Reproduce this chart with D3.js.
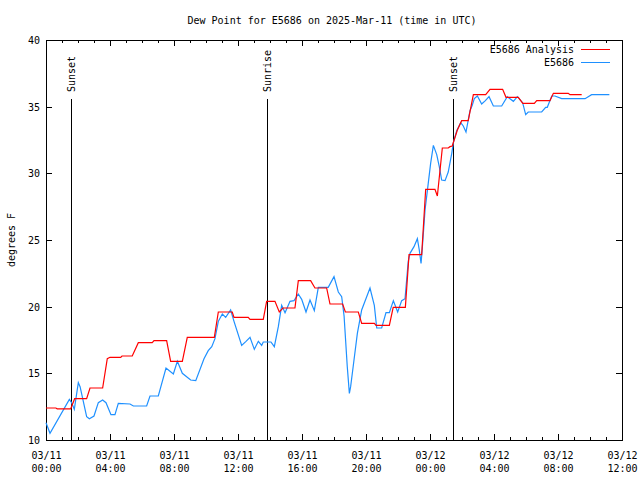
<!DOCTYPE html>
<html><head><meta charset="utf-8">
<script src="https://cdn.jsdelivr.net/npm/d3@7"></script>
<style>
body{margin:0;background:#fff}
svg{display:block}
text{font-family:"DejaVu Sans Mono",monospace;font-size:10px;fill:#000}
</style>
</head><body>
<svg id="chart" width="640" height="480"></svg>
<script>
// ---------------- data ----------------
const chartTitle = "Dew Point for E5686 on 2025-Mar-11 (time in UTC)";
const yAxisLabel = "degrees F";
const seriesNames = ["E5686 Analysis", "E5686"];
const seriesColors = ["#ff0000", "#1e90ff"];
const startUTC = Date.UTC(2025, 2, 11, 0, 0);   // 03/11 00:00 UTC
const spanHours = 36;
const yTicks = [10, 15, 20, 25, 30, 35, 40];

// hours after 03/11 00:00 UTC
const analysisHours = [0, 0.62, 0.7, 1.54, 1.79, 2.54, 2.75, 3.54, 3.83, 4.0, 4.67, 4.75, 5.39, 5.77, 6.64, 6.75, 7.54, 7.79, 8.52, 8.83, 10.52, 10.77, 11.64, 11.75, 12.64, 12.75, 13.58, 13.79, 14.31, 14.58, 14.81, 15.56, 15.77, 16.54, 16.81, 17.54, 17.75, 18.54, 18.71, 19.52, 19.73, 20.52, 20.63, 21.46, 21.7, 22.46, 22.69, 23.48, 23.73, 24.31, 24.46, 24.77, 25.14, 25.25, 25.39, 25.71, 25.98, 26.39, 26.71, 27.48, 27.75, 28.54, 28.75, 29.52, 29.8, 30.52, 30.67, 31.5, 31.71, 32.64, 32.75, 33.48];
const analysisValues = [12.4, 12.4, 12.33, 12.33, 13.1, 13.1, 13.9, 13.9, 16.1, 16.2, 16.2, 16.3, 16.3, 17.3, 17.3, 17.45, 17.45, 15.9, 15.9, 17.7, 17.7, 19.6, 19.6, 19.2, 19.2, 19.05, 19.05, 20.4, 20.4, 19.6, 19.9, 19.9, 21.95, 21.95, 21.4, 21.4, 20.2, 20.2, 19.6, 19.6, 18.75, 18.75, 18.6, 18.6, 19.95, 19.95, 23.9, 23.9, 28.8, 28.8, 28.3, 31.9, 31.9, 32.0, 32.05, 33.25, 33.95, 33.95, 35.9, 35.9, 36.3, 36.3, 35.7, 35.7, 35.25, 35.25, 35.45, 35.45, 36.0, 36.0, 35.9, 35.9];

const obsHours = [0, 0.25, 1.46, 1.6, 1.77, 2.02, 2.13, 2.54, 2.71, 3.0, 3.27, 3.54, 3.75, 4.06, 4.31, 4.52, 5.25, 5.46, 6.29, 6.5, 7.02, 7.5, 7.96, 8.21, 8.52, 9.04, 9.36, 9.875, 10.14, 10.36, 10.56, 10.77, 11.02, 11.23, 11.54, 11.75, 12.23, 12.5, 12.75, 13.02, 13.27, 13.48, 13.58, 14.06, 14.27, 14.52, 14.73, 14.94, 15.25, 15.5, 15.77, 15.98, 16.25, 16.5, 16.77, 17.02, 17.64, 18.0, 18.27, 18.48, 18.63, 18.83, 18.96, 19.04, 19.25, 19.46, 19.73, 20.25, 20.52, 20.67, 20.98, 21.25, 21.46, 21.71, 21.98, 22.23, 22.44, 22.64, 22.75, 23.0, 23.21, 23.33, 23.44, 23.52, 23.69, 23.89, 24.04, 24.21, 24.42, 24.58, 24.73, 24.94, 25.14, 25.36, 25.46, 25.67, 25.92, 26.08, 26.25, 26.5, 26.64, 26.77, 26.96, 27.23, 27.46, 27.69, 27.96, 28.48, 28.83, 29.21, 29.46, 29.79, 29.98, 30.14, 30.98, 31.23, 31.33, 31.61, 31.81, 32.23, 33.69, 34.1, 35.21];
const obsValues = [11.3, 10.5, 13.05, 12.8, 12.3, 14.3, 14.0, 11.75, 11.6, 11.8, 12.8, 13.0, 12.8, 11.9, 11.9, 12.75, 12.7, 12.55, 12.55, 13.3, 13.3, 15.4, 14.95, 15.9, 15.0, 14.5, 14.45, 16.1, 16.7, 17.0, 17.6, 18.9, 19.45, 19.2, 19.75, 18.9, 17.1, 17.4, 17.7, 16.8, 17.4, 17.1, 17.35, 17.35, 17.0, 18.5, 20.1, 19.55, 20.4, 20.45, 20.95, 20.55, 19.6, 20.5, 19.7, 21.45, 21.45, 22.25, 21.1, 20.75, 19.3, 15.5, 13.5, 14.0, 16.0, 18.0, 19.75, 21.4, 20.1, 18.4, 18.4, 19.55, 19.55, 20.45, 19.6, 20.45, 20.6, 23.4, 24.0, 24.5, 25.1, 24.25, 23.25, 24.4, 27.25, 29.25, 30.75, 32.1, 31.4, 30.5, 29.5, 29.45, 30.1, 31.5, 32.3, 33.2, 33.8, 33.55, 33.1, 34.7, 35.1, 35.6, 35.8, 35.2, 35.45, 35.75, 35.05, 35.05, 35.75, 35.4, 35.75, 35.3, 34.4, 34.6, 34.6, 34.95, 34.95, 35.8, 35.8, 35.6, 35.6, 35.9, 35.9];

const sunEventNames = ["Sunset", "Sunrise", "Sunset"];
const sunEventHours = [1.54, 13.79, 25.46];

// ---------------- layout ----------------
const m = {left: 46, right: 622, top: 40, bottom: 440};
const svg = d3.select("#chart");
const toDate = h => new Date(startUTC + h * 3600e3);

const x = d3.scaleUtc().domain([toDate(0), toDate(spanHours)]).range([m.left, m.right]);
const y = d3.scaleLinear().domain([10, 40]).range([m.bottom, m.top]);

// title
svg.append("text").attr("x", 332).attr("y", 20).attr("text-anchor", "middle")
  .attr("dominant-baseline", "central").text(chartTitle);

// y label
svg.append("text").attr("transform", `translate(11,${(m.top + m.bottom) / 2}) rotate(-90)`)
  .attr("text-anchor", "middle").attr("dominant-baseline", "central").text(yAxisLabel);

function styleAxis(g) {
  g.select(".domain").remove();
  g.attr("font-family", null).attr("font-size", null);
  g.selectAll("line").attr("stroke", "#000").attr("shape-rendering", "crispEdges");
}

const hourTicks = d3.utcHour.every(1).range(toDate(0), toDate(spanHours + 0.01));
const majorTicks = d3.utcHour.every(4).range(toDate(0), toDate(spanHours + 0.01));

// minor x ticks (bottom & top)
svg.append("g").attr("transform", `translate(0,${m.bottom})`)
  .call(d3.axisBottom(x).tickValues(hourTicks).tickSize(-3).tickFormat("")).call(styleAxis);
svg.append("g").attr("transform", `translate(0,${m.top})`)
  .call(d3.axisTop(x).tickValues(hourTicks).tickSize(-3).tickFormat("")).call(styleAxis);
// major x ticks
const fmtD = d3.utcFormat("%m/%d"), fmtT = d3.utcFormat("%H:%M");
const xb = svg.append("g").attr("transform", `translate(0,${m.bottom})`)
  .call(d3.axisBottom(x).tickValues(majorTicks).tickSize(-6).tickFormat("")).call(styleAxis);
xb.selectAll(".tick text").remove();
xb.selectAll(".tick").each(function(d) {
  const g = d3.select(this);
  g.append("text").attr("y", 15).attr("text-anchor", "middle").attr("dominant-baseline", "central").text(fmtD(d));
  g.append("text").attr("y", 28).attr("text-anchor", "middle").attr("dominant-baseline", "central").text(fmtT(d));
});
svg.append("g").attr("transform", `translate(0,${m.top})`)
  .call(d3.axisTop(x).tickValues(majorTicks).tickSize(-6).tickFormat("")).call(styleAxis);

// y axes
const yl = svg.append("g").attr("transform", `translate(${m.left},0)`)
  .call(d3.axisLeft(y).tickValues(yTicks).tickSize(-6).tickPadding(6).tickFormat(d3.format("d"))).call(styleAxis);
yl.selectAll("text").attr("fill", "#000").attr("dy", null).attr("dominant-baseline", "central");
svg.append("g").attr("transform", `translate(${m.right},0)`)
  .call(d3.axisRight(y).tickValues(yTicks).tickSize(-6).tickFormat("")).call(styleAxis);

// frame
svg.append("rect").attr("x", m.left + 0.5).attr("y", m.top + 0.5)
  .attr("width", m.right - m.left).attr("height", m.bottom - m.top)
  .attr("fill", "none").attr("stroke", "#000").attr("shape-rendering", "crispEdges");

// sunrise / sunset markers
sunEventHours.forEach((h, i) => {
  const xx = Math.round(x(toDate(h))) + 0.5;
  svg.append("line").attr("x1", xx).attr("x2", xx).attr("y1", m.bottom).attr("y2", 99)
    .attr("stroke", "#000").attr("stroke-width", 1).attr("shape-rendering", "crispEdges");
  svg.append("text").attr("transform", `translate(${xx},92) rotate(-90)`)
    .attr("text-anchor", "start").attr("dominant-baseline", "central").text(sunEventNames[i]);
});

// series lines
const line = d3.line().x(d => x(toDate(d[0]))).y(d => y(d[1]));
const analysis = analysisHours.map((h, i) => [h, analysisValues[i]]);
const obs = obsHours.map((h, i) => [h, obsValues[i]]);
svg.append("path").datum(obs).attr("d", line).attr("fill", "none")
  .attr("stroke", seriesColors[1]).attr("stroke-width", 1.2);
svg.append("path").datum(analysis).attr("d", line).attr("fill", "none")
  .attr("stroke", seriesColors[0]).attr("stroke-width", 1.2);

// legend
const legendY = [49, 62];
seriesNames.forEach((n, i) => {
  svg.append("text").attr("x", 574).attr("y", legendY[i]).attr("text-anchor", "end")
    .attr("dominant-baseline", "central").text(n);
  svg.append("line").attr("x1", 581).attr("x2", 610).attr("y1", legendY[i] + 0.5).attr("y2", legendY[i] + 0.5)
    .attr("stroke", seriesColors[i]).attr("stroke-width", 1);
});
</script>
</body></html>
